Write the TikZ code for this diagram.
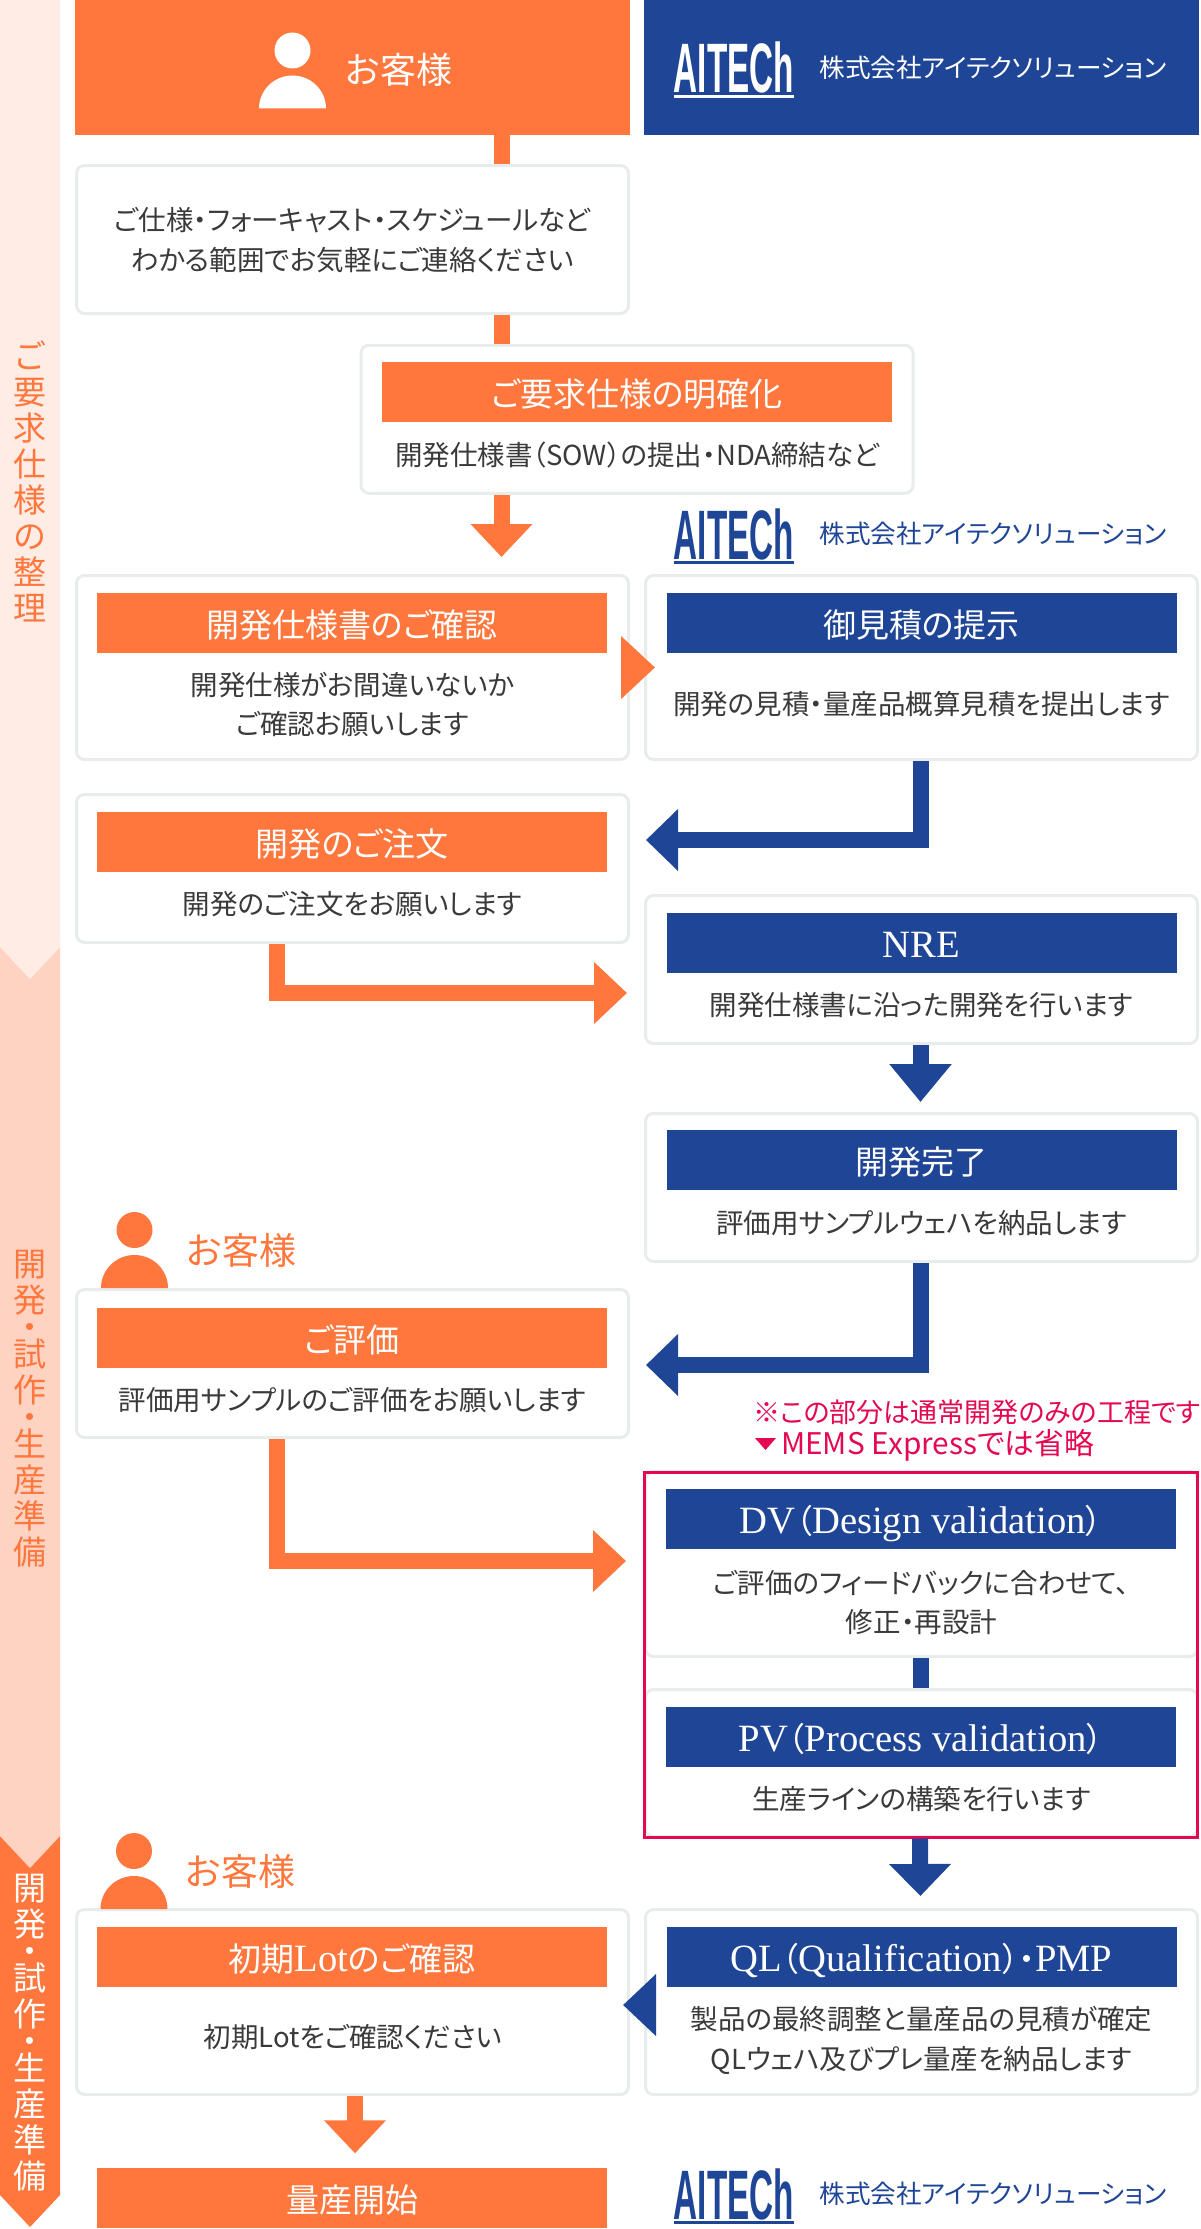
\documentclass[tikz,border=0pt]{standalone}
\usepackage{fontspec}
\setmainfont[RawFeature={+palt}]{Noto Sans CJK JP}
\newfontfamily\latinhead[Scale=1.17]{Liberation Serif}
\newfontfamily\logofont{Liberation Sans}
\usepackage{xcolor}
\usetikzlibrary{arrows.meta}
\definecolor{custorange}{HTML}{FF773D}
\definecolor{atechblue}{HTML}{1F4596}
\definecolor{noticered}{HTML}{E3084F}
\definecolor{cardline}{HTML}{E8EDEC}
\definecolor{bodyink}{HTML}{3A3A3A}
\definecolor{stripa}{HTML}{FFECE4}
\definecolor{stripb}{HTML}{FFD3C2}
\tikzset{
 card/.style={draw=cardline, line width=3pt, fill=white, rounded corners=8pt, minimum width=552pt, inner sep=0},
 headbox/.style={minimum width=510pt, minimum height=60pt, inner sep=0, text=white, text height=31pt, text depth=1.5pt, font=\fontsize{33}{36}\selectfont},
 bodytext/.style={align=center, inner sep=0, yshift=-.5pt, text=bodyink, font=\fontsize{27.5}{39.5}\selectfont},
 striptext/.style={align=center, inner sep=0, font=\fontsize{33}{36}\selectfont},
 custlabel/.style={inner sep=0, text=custorange, font=\fontsize{37}{40}\selectfont},
 redtext/.style={anchor=west, inner sep=0, text=noticered, font=\fontsize{27}{30}\selectfont},
 orangeline/.style={draw=custorange, line width=16pt},
 blueline/.style={draw=atechblue, line width=16pt},
 orangearrow/.style={orangeline, -{Triangle[length=33pt,width=60pt]}},
 bluearrow/.style={blueline, -{Triangle[length=32pt,width=60pt]}},
}
\newcommand{\personicon}[3]{
 \fill[#3] (#1,#2) ellipse (18pt and 18pt);
 \fill[#3] (#1,#2) ++(-33.5pt,-58pt) arc (180:0:33.5pt and 33pt) -- cycle;
}
\newcommand{\atechlogo}[4]{
 \node[anchor=base, inner sep=0, text=#4, xscale=.475, font=\logofont\bfseries\fontsize{70}{70}\selectfont] (#1mark) at (734,#3+50) {AITECh};
 \fill[#4] (674,#3+52) rectangle (794,#3+55);
 \node[inner sep=0, text=#4, font=\fontsize{25.6}{30}\selectfont] (#1name) at (993,#2) {株式会社アイテクソリューション};
}

\begin{document}
\begin{tikzpicture}[x=1pt, y=-1pt]
\useasboundingbox (0,0) rectangle (1200,2229);

\fill[custorange] (0,1830)--(60,1830)--(60,2195)--(30,2227)--(0,2195)--cycle;
\fill[stripb] (0,940)--(60,940)--(60,1836)--(30,1868)--(0,1836)--cycle;
\fill[stripa] (0,0)--(60,0)--(60,947)--(30,979)--(0,947)--cycle;
\node[striptext, text=custorange] (stripone) at (30,481) {ご\\要\\求\\仕\\様\\の\\整\\理};
\node[striptext, text=custorange] (striptwo) at (30,1409) {開\\発\\[-9pt]・\\[-9pt]試\\作\\[-9pt]・\\[-9pt]生\\産\\準\\備};
\node[striptext, text=white] (stripthree) at (30,2033) {開\\発\\[-9pt]・\\[-9pt]試\\作\\[-9pt]・\\[-9pt]生\\産\\準\\備};

\fill[custorange] (75,0) rectangle (630,135);
\fill[atechblue] (644,0) rectangle (1199,135);
\node[minimum width=555pt, minimum height=135pt, inner sep=0] (topcust) at (352.5,67.5) {};
\personicon{292.5}{50.5}{white}
\node[inner sep=0, text=white, font=\fontsize{36}{40}\selectfont] (topcustlabel) at (399,70) {お客様};
\atechlogo{top}{68}{43}{white}
\atechlogo{mid}{534}{509}{atechblue}
\atechlogo{end}{2194}{2169}{atechblue}

\foreach \nm/\cx/\cy/\ch in {inquiry/352.5/239.5/148, clarify/637/419.25/148, spec/352.5/667.5/184, quote/921.5/667.5/184,
 order/352.5/868.5/148, nre/921.5/969.5/148, done/921.5/1187.5/148, eval/352.5/1363.5/148,
 dv/921.5/1564/185, pv/921.5/1763/147, lot/352.5/2002/185, ql/921.5/2002/185} {
 \node[card, minimum height=\ch pt] (\nm) at (\cx,\cy) {};
};

\foreach \nm/\cx/\cy/\tx in {clarifyhead/637/392/{ご要求仕様の明確化}, spechead/352/622.5/{開発仕様書のご確認},
 orderhead/352/842/{開発のご注文}, evalhead/352/1337.5/{ご評価}, lothead/352/1956.5/{初期{\latinhead Lot}のご確認}, starthead/352/2197.5/{量産開始}} {
 \node[headbox, fill=custorange] (\nm) at (\cx,\cy) {\tx};
};
\foreach \nm/\cx/\cy/\tx in {quotehead/921.5/622.5/{御見積の提示}, nrehead/921.5/943/{\latinhead NRE}, donehead/921.5/1160/{開発完了},
 dvhead/921/1519/{{\latinhead DV}（{\latinhead Design validation}）}, pvhead/921/1736.5/{{\latinhead PV}（{\latinhead Process validation}）},
 qlhead/921.5/1956.5/{{\latinhead QL}（{\latinhead Qualification}）・{\latinhead PMP}}} {
 \node[headbox, fill=atechblue] (\nm) at (\cx,\cy) {\tx};
};

\node[bodytext] (inquirytext) at (352.5,239.5) {ご仕様・フォーキャスト・スケジュールなど\\わかる範囲でお気軽にご連絡ください};
\node[bodytext] (clarifytext) at (637,455) {開発仕様書（SOW）の提出・NDA締結など};
\node[bodytext] (spectext) at (352.5,704) {開発仕様がお間違いないか\\ご確認お願いします};
\node[bodytext] (quotetext) at (921.5,704) {開発の見積・量産品概算見積を提出します};
\node[bodytext] (ordertext) at (352.5,904) {開発のご注文をお願いします};
\node[bodytext] (nretext) at (921.5,1005) {開発仕様書に沿った開発を行います};
\node[bodytext] (donetext) at (921.5,1223) {評価用サンプルウェハを納品します};
\node[bodytext] (evaltext) at (352.5,1400) {評価用サンプルのご評価をお願いします};
\node[bodytext] (dvtext) at (921.5,1602) {ご評価のフィードバックに合わせて、\\修正・再設計};
\node[bodytext] (pvtext) at (921.5,1798) {生産ラインの構築を行います};
\node[bodytext] (lottext) at (352.5,2036.5) {初期Lotをご確認ください};
\node[bodytext] (qltext) at (921.5,2040) {製品の最終調整と量産品の見積が確定\\QLウェハ及びプレ量産を納品します};

\personicon{134.5}{1230}{custorange}
\node[custlabel] (evalcust) at (241.5,1250) {お客様};
\personicon{134}{1851}{custorange}
\node[custlabel] (lotcust) at (240.5,1871) {お客様};

\node[redtext] (notetop) at (753,1412) {※この部分は通常開発のみの工程です};
\fill[noticered] (755,1438)--(776,1438)--(765.5,1450)--cycle;
\node[redtext, font=\fontsize{29.8}{30}\selectfont] (notebot) at (781,1445) {MEMS Expressでは省略};
\node[draw=noticered, line width=3pt, minimum width=553pt, minimum height=365pt, inner sep=0] (redframe) at (921,1654.5) {};

\draw[orangeline] ([xshift=149pt]topcust.south) -- ([xshift=149pt]inquiry.north);
\draw[orangeline] ([xshift=149pt]inquiry.south) -- ([xshift=-135.5pt]clarify.north);
\draw[orangearrow, shorten >=17pt] ([xshift=-135.5pt]clarify.south) -- ([xshift=149pt]spec.north);
\draw[orangearrow, -{Triangle[length=34pt,width=61pt]}, shorten <=-9pt, shorten >=-11pt] (spec.east) -- (quote.west);
\draw[bluearrow, shorten >=16pt] ([xshift=-1pt]quote.south) |- ([yshift=28.5pt]order.east);
\draw[orangearrow, shorten >=17pt] ([xshift=-76pt]order.south) |- ([yshift=-23.5pt]nre.west);
\draw[bluearrow, -{Triangle[length=38pt,width=60pt]}, shorten >=10pt] ([xshift=-1pt]nre.south) -- ([xshift=-1pt]done.north);
\draw[bluearrow, shorten >=16pt] ([xshift=-1pt]done.south) |- ([yshift=-1.5pt]eval.east);
\draw[orangearrow, shorten >=17pt] ([xshift=-76pt]eval.south) |- ([yshift=93.5pt]redframe.west);
\draw[blueline] ([xshift=-1pt]dv.south) -- ([xshift=-1pt]pv.north);
\draw[bluearrow, shorten >=12pt] ([xshift=-1pt]redframe.south) -- ([xshift=-1pt]ql.north);
\draw[bluearrow, -{Triangle[length=33pt,width=60pt]}, shorten <=-12pt, shorten >=-7pt] ([yshift=-3pt]ql.west) -- ([yshift=-3pt]lot.east);
\draw[orangearrow, shorten >=14pt] ([xshift=2.5pt]lot.south) -- ([xshift=3pt]starthead.north);
\end{tikzpicture}
\end{document}
